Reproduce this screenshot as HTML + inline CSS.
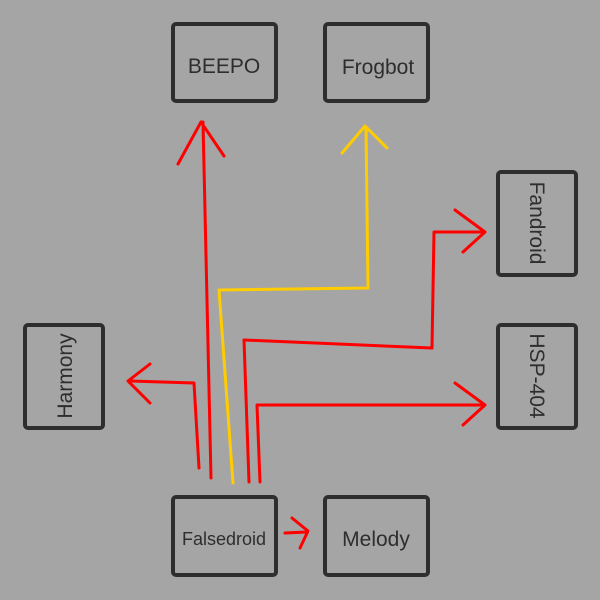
<!DOCTYPE html>
<html><head><style>
body{margin:0;background:#a5a5a5;}
svg{display:block}
text{font-family:"Liberation Sans",sans-serif;fill:#2e2e2e;}
</style></head><body>
<svg width="600" height="600" viewBox="0 0 600 600">
<rect width="600" height="600" fill="#a5a5a5"/>
<g fill="none" stroke="#2e2e2e" stroke-width="4" stroke-linecap="round">
<rect x="173" y="24" width="103" height="77" rx="3"/>
<rect x="325" y="24" width="103" height="77" rx="3"/>
<rect x="173" y="497" width="103" height="78" rx="3"/>
<rect x="325" y="497" width="103" height="78" rx="3"/>
<rect x="498" y="172" width="78" height="103" rx="3"/>
<rect x="498" y="325" width="78" height="103" rx="3"/>
<rect x="25" y="325" width="78" height="103" rx="3"/>
</g>
<g fill="none" stroke-width="3" stroke-linecap="round" stroke-linejoin="round">
<path d="M211 478 L203 122 M178 164 L201 122 L224 156" stroke="#ff0000"/>
<path d="M233 483 L219 290 L368 288 L366 128 M342 153 L365 126 L387 148" stroke="#ffcc00"/>
<path d="M199 468 L194 383 L130 381 M150 364 L128 381 L150 403" stroke="#ff0000"/>
<path d="M249 482 L244 340 L432 348 L434 232 L484 232 M455 210 L485 232 L463 252" stroke="#ff0000"/>
<path d="M260 482 L257 405 L484 405 M455 383 L485 405 L463 425" stroke="#ff0000"/>
<path d="M285 533 L307 532 M292 518 L308 531 L300 548" stroke="#ff0000"/>
</g>
<text x="224" y="73" font-size="21" text-anchor="middle">BEEPO</text>
<text x="378" y="74" font-size="21" text-anchor="middle">Frogbot</text>
<text x="224" y="545" font-size="18" text-anchor="middle">Falsedroid</text>
<text x="376" y="546" font-size="21" text-anchor="middle">Melody</text>
<text transform="translate(530,223) rotate(90)" font-size="21" text-anchor="middle">Fandroid</text>
<text transform="translate(530,376) rotate(90)" font-size="21" text-anchor="middle">HSP-404</text>
<text transform="translate(72,376) rotate(-90)" font-size="21" text-anchor="middle">Harmony</text>
</svg>
</body></html>
